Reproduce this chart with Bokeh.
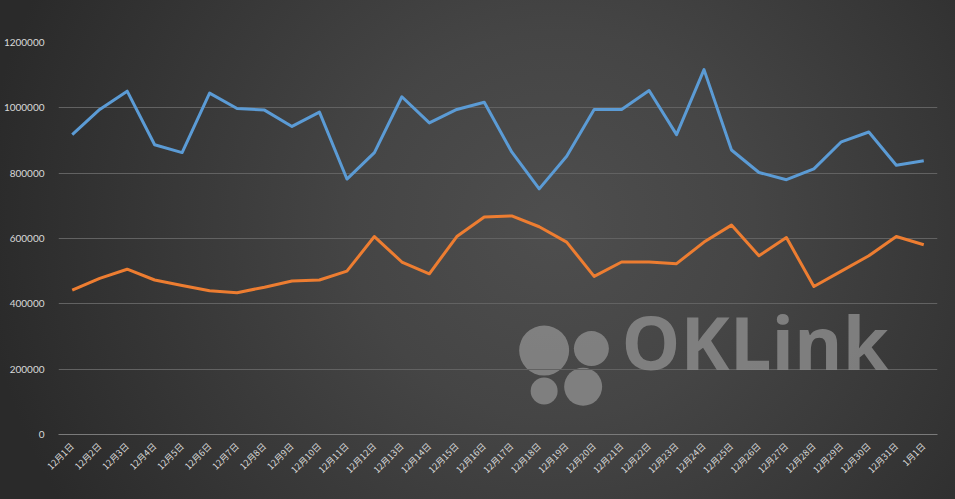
import numpy as np
from bokeh.plotting import figure
from bokeh.models import Range1d, FixedTicker, NumeralTickFormatter, Label
from bokeh.embed import file_html
from bokeh.resources import INLINE

# ---- data ----
dates = [f"12月{d}日" for d in range(1, 32)] + ["1月1日"]
blue_values = [918000, 995000, 1051000, 887000, 863000, 1045000, 998000, 993000,
               943000, 987000, 782000, 863000, 1034000, 954000, 995000, 1017000,
               865000, 752000, 852000, 995000, 995000, 1053000, 918000, 1117000,
               871000, 802000, 780000, 813000, 896000, 926000, 824000, 838000]
orange_values = [442000, 478000, 506000, 473000, 456000, 440000, 434000, 451000,
                 470000, 473000, 500000, 606000, 528000, 492000, 606000, 666000,
                 669000, 636000, 589000, 484000, 528000, 528000, 523000, 589000,
                 641000, 547000, 603000, 453000, 500000, 547000, 606000, 581000]
y_ticks = [0, 200000, 400000, 600000, 800000, 1000000, 1200000]

xs = list(range(len(dates)))
n = len(dates)

p = figure(width=939, height=483, output_backend="svg", toolbar_location=None,
           x_range=Range1d(-0.5, n - 0.5), y_range=Range1d(0, 1200000),
           min_border_left=54, min_border_right=2, min_border_top=42,
           border_fill_alpha=0, background_fill_alpha=0,
           outline_line_color=None)

# watermark
wm = "#8a8a8a"
p.scatter(x=[17.18, 18.9, 17.18, 18.6], y=[257000, 263000, 133000, 146000],
          size=[50, 35, 27, 38], marker="circle", fill_color=wm, line_color=None,
          fill_alpha=0.85, level="underlay")
p.add_layout(Label(x=20.0, y=130000, text="OKLink", text_font="Open Sans",
                   text_font_style="bold", text_font_size="74px", text_color=wm,
                   text_alpha=0.85, level="underlay"))

p.line(xs, blue_values, line_color="#5b9bd5", line_width=3, line_join="round")
p.line(xs, orange_values, line_color="#ed7d31", line_width=3, line_join="round")

# axes
p.yaxis.ticker = FixedTicker(ticks=y_ticks)
p.yaxis.formatter = NumeralTickFormatter(format="0")
p.yaxis.axis_line_color = None
p.yaxis.major_tick_line_color = None
p.yaxis.minor_tick_line_color = None
p.yaxis.major_label_text_color = "#d9d9d9"
p.yaxis.major_label_text_font = "Lato"
p.yaxis.major_label_text_font_size = "10px"
p.yaxis.major_label_standoff = 8

p.xaxis.ticker = FixedTicker(ticks=xs)
p.xaxis.major_label_overrides = {i: dates[i] for i in xs}
p.xaxis.major_label_orientation = np.pi / 4
p.xaxis.axis_line_color = "#7a7a7a"
p.xaxis.major_tick_line_color = None
p.xaxis.minor_tick_line_color = None
p.xaxis.major_label_text_color = "#d9d9d9"
p.xaxis.major_label_text_font = "Noto Sans CJK SC"
p.xaxis.major_label_text_font_size = "9px"
p.xaxis.major_label_standoff = 4

p.xgrid.grid_line_color = None
p.ygrid.grid_line_color = "#626262"
p.ygrid.grid_line_width = 1

css = ("<style>html { height: 100%; background: #2e2e2e "
       "radial-gradient(ellipse 60% 110% at 58% 45%, #4e4e4e 0%, #454545 35%, #2a2a2a 100%) no-repeat; } "
       "body { background: transparent; }</style>")
html = file_html(p, INLINE)
html = html.replace("</head>", css + "</head>", 1)
open("out.html", "w").write(html)
